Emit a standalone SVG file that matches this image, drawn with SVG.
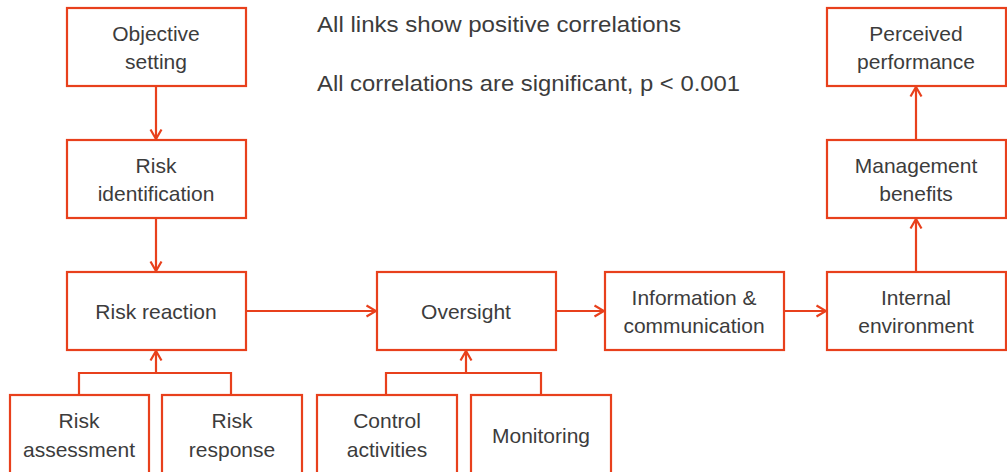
<svg xmlns="http://www.w3.org/2000/svg" width="1007" height="472" viewBox="0 0 1007 472">
<defs>
<marker id="arr" viewBox="0 0 14 14" refX="12.5" refY="7" markerWidth="14" markerHeight="14" markerUnits="userSpaceOnUse" orient="auto">
<path d="M3,1.5 L12.5,7 L3,12.5" fill="none" stroke="#E8401C" stroke-width="2.2"/>
</marker>
<style>
.box{fill:#fff;stroke:#E8401C;stroke-width:2.2}
.lbl{font-family:"Liberation Sans",Arial,sans-serif;font-size:21px;fill:#3c3c3c;text-anchor:middle}
.note{font-family:"Liberation Sans",Arial,sans-serif;font-size:22.5px;fill:#3c3c3c}
.con{fill:none;stroke:#E8401C;stroke-width:2.2}
</style>
</defs>
<rect width="1007" height="472" fill="#fff"/>
<g id="notes">
<text class="note" x="317" y="32" textLength="364" lengthAdjust="spacingAndGlyphs">All links show positive correlations</text>
<text class="note" x="317" y="91" textLength="423" lengthAdjust="spacingAndGlyphs">All correlations are significant, p &lt; 0.001</text>
</g>
<g id="connectors">
<path class="con" d="M156,86 V139" marker-end="url(#arr)"/>
<path class="con" d="M156,218 V271" marker-end="url(#arr)"/>
<path class="con" d="M246,311 H376" marker-end="url(#arr)"/>
<path class="con" d="M556,311 H604" marker-end="url(#arr)"/>
<path class="con" d="M784,311 H826" marker-end="url(#arr)"/>
<path class="con" d="M916,272 V219" marker-end="url(#arr)"/>
<path class="con" d="M916,140 V87" marker-end="url(#arr)"/>
<path class="con" d="M79,395 V373 H231 V395"/>
<path class="con" d="M156,373 V351" marker-end="url(#arr)"/>
<path class="con" d="M386,395 V373 H541 V395"/>
<path class="con" d="M466,373 V351" marker-end="url(#arr)"/>
</g>
<g id="objective-setting">
<rect class="box" x="67" y="8" width="179" height="78"/>
<text class="lbl" x="156" y="41">Objective</text>
<text class="lbl" x="156" y="69">setting</text>
</g>
<g id="risk-identification">
<rect class="box" x="67" y="140" width="179" height="78"/>
<text class="lbl" x="156" y="173">Risk</text>
<text class="lbl" x="156" y="201">identification</text>
</g>
<g id="risk-reaction">
<rect class="box" x="67" y="272" width="179" height="78"/>
<text class="lbl" x="156" y="319">Risk reaction</text>
</g>
<g id="oversight">
<rect class="box" x="377" y="272" width="179" height="78"/>
<text class="lbl" x="466" y="319">Oversight</text>
</g>
<g id="information-communication">
<rect class="box" x="605" y="272" width="179" height="78"/>
<text class="lbl" x="694" y="305">Information &amp;</text>
<text class="lbl" x="694" y="333">communication</text>
</g>
<g id="internal-environment">
<rect class="box" x="827" y="272" width="179" height="78"/>
<text class="lbl" x="916" y="305">Internal</text>
<text class="lbl" x="916" y="333">environment</text>
</g>
<g id="management-benefits">
<rect class="box" x="827" y="140" width="179" height="78"/>
<text class="lbl" x="916" y="173">Management</text>
<text class="lbl" x="916" y="201">benefits</text>
</g>
<g id="perceived-performance">
<rect class="box" x="827" y="8" width="179" height="78"/>
<text class="lbl" x="916" y="41">Perceived</text>
<text class="lbl" x="916" y="69">performance</text>
</g>
<g id="risk-assessment">
<rect class="box" x="10" y="395" width="139" height="90"/>
<text class="lbl" x="79" y="428">Risk</text>
<text class="lbl" x="79" y="457">assessment</text>
</g>
<g id="risk-response">
<rect class="box" x="162" y="395" width="140" height="90"/>
<text class="lbl" x="232" y="428">Risk</text>
<text class="lbl" x="232" y="457">response</text>
</g>
<g id="control-activities">
<rect class="box" x="317" y="395" width="140" height="90"/>
<text class="lbl" x="387" y="428">Control</text>
<text class="lbl" x="387" y="457">activities</text>
</g>
<g id="monitoring">
<rect class="box" x="471" y="395" width="140" height="90"/>
<text class="lbl" x="541" y="443">Monitoring</text>
</g>
</svg>
